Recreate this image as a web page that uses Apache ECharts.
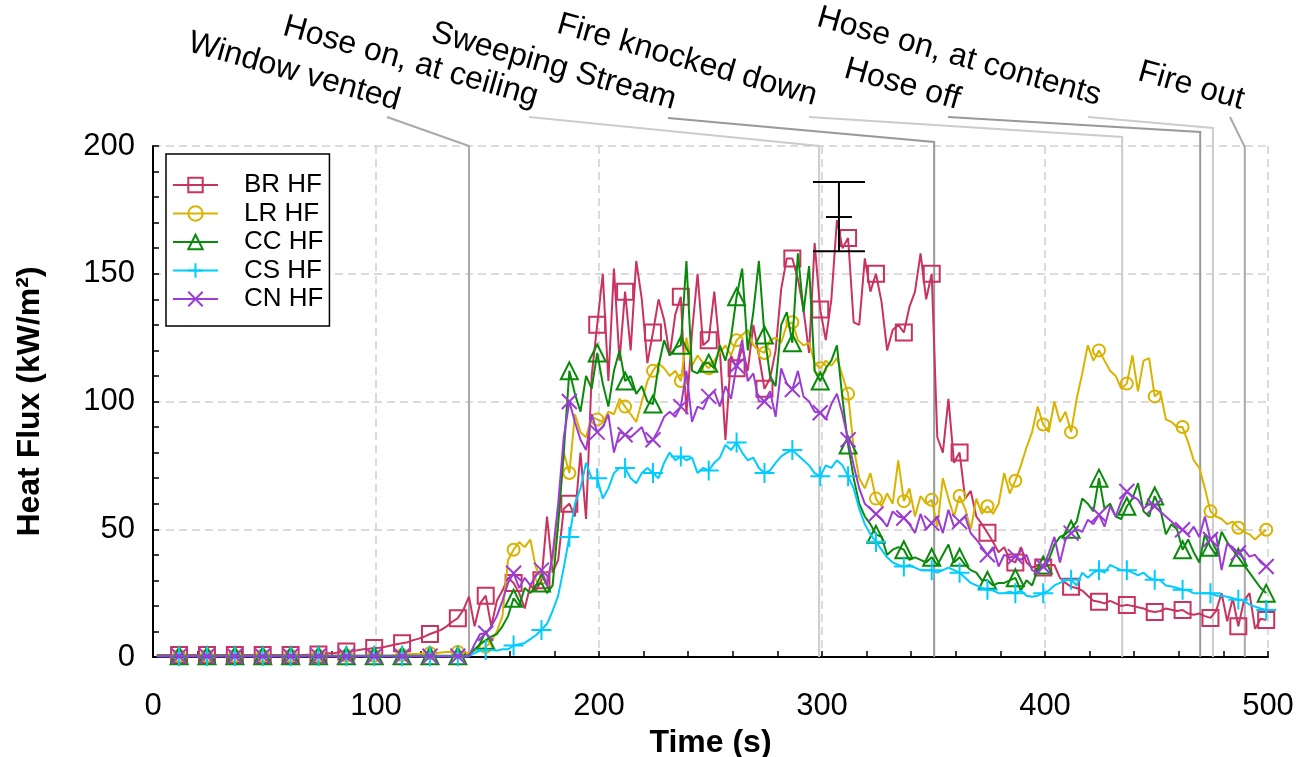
<!DOCTYPE html>
<html>
<head>
<meta charset="utf-8">
<script src="https://cdn.jsdelivr.net/npm/echarts@6/dist/echarts.min.js"></script>
<style>html,body{margin:0;padding:0;background:#fff}#c{width:1311px;height:757px}</style>
</head>
<body>
<div id="c"></div>
<script>
// ---- sampling grid (s) ----
const T0 = 1.7, DT = 2.5;
// ---- series values (kW/m^2), one value every 2.5 s ----
const brHF = [
0.8,0.8,0.8,0.8,0.8,0.8,0.8,0.8,0.8,0.8,
0.8,0.8,0.8,0.8,0.8,0.8,0.8,0.8,0.8,0.8,
0.8,0.8,0.8,0.8,0.8,0.8,0.8,0.9,0.9,1.0,
1.3,1.5,1.6,2.0,2.2,2.4,2.6,3.0,3.2,3.5,
3.6,4.0,4.5,5.0,5.4,5.8,6.6,7.2,8.0,9.0,
9.8,10.6,12.0,13.8,15.2,18.5,23.6,12,21,24,
12,22,26,31,29,25,19,28,26,30,
55,33,38,58,60,55,80,54,110,130,
150,108,152,116,143,120,155,140,115,127,
140,132,118,134,141,95,127,150,122,124,
143,120,85,118,113,121,112,130,118,105,
109,120,144,156,156,148,136,119,162,136,
124,140,171,160,164,131,130,156,143,150,
139,120,128,130,127,137,143,158,140,150,
86,80,101,76,80,62,65,55,52,48.6,
45,41,43,38,37,43,37,35,36,35,
36,36,31,29,27.5,27,26,24,22,21.6,
21,22,21,20,20.4,20,19.5,19,18,17.6,
18,19,18.5,18,18.4,17,16.5,17,16,15.3,
18,25,14,23,12,22,25,11,15,14.5];
const lrHF = [
0.5,0.5,0.5,0.5,0.5,0.5,0.5,0.5,0.5,0.5,
0.5,0.5,0.5,0.5,0.5,0.5,0.5,0.5,0.5,0.5,
0.5,0.5,0.5,0.5,0.5,0.5,0.5,0.5,0.5,0.5,
0.5,0.5,0.5,0.5,0.5,0.5,0.5,0.5,0.5,0.5,
0.5,0.5,0.6,0.7,0.8,1.0,1.2,1.3,1.4,1.5,
1.5,1.8,2,2,2,2,1.5,2.5,3,4,
6,10,16,38,42,45,43,46,35,31,
30,38,55,80,72,95,88,86,94,93,
92,96,95,101,98,95,92,100,108,112,
115,113,110,112,108,125,114,118,115,113,
116,119,122,118,124,126,128,122,120,119,
124,125,123,130,131,124,122,123,115,113,
116,114,117,110,103,82,70,66,72,62,
59,64,60,77,61,66,55,63,60,61.5,
51,70,62,55,63,58,50,62,56,59,
56,60,72,64,69,75,82,88,98,91,
88,100,92,96,88,101,111,122,116,120,
116,112,110,105,107,118,104,116,117,102,
104,93,92,90,90,84,77,74,66,57,
55,54,52,53,50.6,49,48,46,48,49.8];
const ccHF = [
0.5,0.5,0.5,0.5,0.5,0.5,0.5,0.5,0.5,0.5,
0.5,0.5,0.5,0.5,0.5,0.5,0.5,0.5,0.5,0.5,
0.5,0.5,0.5,0.5,0.5,0.5,0.5,0.5,0.5,0.5,
0.5,0.5,0.5,0.5,0.5,0.5,0.5,0.5,0.5,0.5,
0.5,0.5,0.5,0.5,0.5,0.5,0.5,0.5,0.5,0.5,
0.5,0.5,0.5,0.5,0.5,0.5,0.8,3,5,6.5,
8,9,12,16,23,20,27,25,28,29,
25,28,52,80,112,103,96,110,105,119,
107,98,112,120,108,110,103,106,100,99,
114,124,118,121,122,155,112,111,115,115,
113,122,116,125,141,152,120,135,155,126,
110,106,130,135,123,158,135,153,112,108,
113,116,122,101,83,70,60,55,52,48,
47,40,42,43,42,38,39,38,37,39,
36,40,44,37,39,36,34,33,30,30,
28,29,29,30,31,26,30,28,34,36,
38,44,47,48,50,53,62,60,57,70,
58,60,55,54,59,62,68,57,55,63,
58,48,52,50,42,46,41,37,48,43,
40,49,45,42,39,36,33,30,27,25];
const csHF = [
0.3,0.3,0.3,0.3,0.3,0.3,0.3,0.3,0.3,0.3,
0.3,0.3,0.3,0.3,0.3,0.3,0.3,0.3,0.3,0.3,
0.3,0.3,0.3,0.3,0.3,0.3,0.3,0.3,0.3,0.3,
0.3,0.3,0.3,0.3,0.3,0.3,0.3,0.3,0.3,0.3,
0.3,0.3,0.3,0.3,0.3,0.3,0.3,0.3,0.3,0.3,
0.3,0.3,0.3,0.3,0.3,0.3,0.3,1.5,2.5,2.7,
2.7,2.5,3,3,4.5,5,5.5,7,8.5,10.6,
13,18,24,35,47,60,66,76,70,70,
62,66,72,74,74,70,68,72,74,72,
70,76,80,77,78.5,77,78,72,74,73,
76,78,83,81,84,80,77,78,74,72,
73,76,78.5,80,81,79,77,75,72,70.7,
75,74,77,75,70.7,66,58,52,48,45,
42,39,37,36,35.4,36,35,34,34,34,
33,34,35,34,33,31,29,28,27,26.3,
26,25,25,25.5,25,26,24,23.6,24,25,
26,28,29,30,30.2,28,33,31,33,34,
33,36,35,34,34,33,32,33,31,30.2,
30,28,27.6,27,26.3,26,25,25,25,25,
24,24,23.6,23,22.4,22,20.5,19.7,19,18.4];
const cnHF = [
0.3,0.3,0.3,0.3,0.3,0.3,0.3,0.3,0.3,0.3,
0.3,0.3,0.3,0.3,0.3,0.3,0.3,0.3,0.3,0.3,
0.3,0.3,0.3,0.3,0.3,0.3,0.3,0.3,0.3,0.3,
0.3,0.3,0.3,0.3,0.3,0.3,0.3,0.3,0.3,0.3,
0.3,0.3,0.3,0.3,0.3,0.3,0.3,0.3,0.3,0.3,
0.3,0.3,0.3,0.3,0.3,0.3,0.3,5,9,9.3,
12,16,22,29,32.8,27,31,28,32,34,
28,40,60,86,100,92,85,81,95,88,
90,95,80,88,87,86,88,90,84,85,
89,94,96,94,98,112,92,98,97,102,
104,98,106,101,114,124,108,111,100,100,
104,94,113,107,104.7,112,102,100,96,95.6,
93,99,103,95,85,75,66,60,58,56,
54,51,57,55,54.4,52,48.5,56,50,52.4,
55,48.5,57.6,51,53,55,48.5,46,43,40,
43,35.4,40,39,39.3,38,40,34,32.8,35.4,
40.7,47,37,46,48.5,50,49,53.7,52,55.7,
51,59,55,61,64.8,63,61.6,58,60,59,
57,55,53,51,49.8,48,51,47,55,46,
48,34,44.6,42,40.7,42,39.3,40,37,35.4];
const seriesNames = ['BR HF', 'LR HF', 'CC HF', 'CS HF', 'CN HF'];

// ---- events ----
const eventNames = ['Window vented', 'Hose on, at ceiling', 'Sweeping Stream', 'Fire knocked down', 'Hose off', 'Hose on, at contents', 'Fire out'];
const eventTimes = [141.7, 298.7, 350.3, 434.6, 469.6, 475.3, 489.6];

// ---- error bar near peak ----
const errTime = [307.6];
const errLow = [158.8];
const errMid = [172.2];
const errHigh = [185.9];

// ---- axis ticks ----
const xTicks = [0, 100, 200, 300, 400, 500];
const yTicks = [0, 50, 100, 150, 200];

// ================= styling / layout =================
const FONT = '"Liberation Sans", Arial, sans-serif';
const colors = ['#C9335F', '#D9B300', '#0A8A0A', '#00CCFF', '#9B3CD2'];
const symbols = ['rect', 'circle', 'triangle', 'path://M10,0L10,20M0,10L20,10', 'path://M0,0L20,20M20,0L0,20'];
const symbolSizes = [16, 12, 17, 20, 15];
const markerStep = 5, markerOffset = 4;
// event annotation layout (pixels): label anchor (right-bottom), leader start, corner y, line color
const evLayout = [
  { tx: 395, ty: 117, lx: 387, ly: 117, cy: 146, c: '#aaaaaa' },
  { tx: 533, ty: 113, lx: 529, ly: 117, cy: 146, c: '#cccccc' },
  { tx: 671, ty: 116, lx: 668, ly: 118, cy: 142, c: '#999999' },
  { tx: 812, ty: 112, lx: 809, ly: 117, cy: 137, c: '#cccccc' },
  { tx: 955, ty: 116, lx: 948, ly: 117, cy: 132, c: '#999999' },
  { tx: 1096, ty: 112, lx: 1088, ly: 117, cy: 128, c: '#cccccc' },
  { tx: 1239, ty: 116, lx: 1230, ly: 117, cy: 147, c: '#aaaaaa' }
];

const time = brHF.map((_, i) => +(T0 + DT * i).toFixed(2));
const allVals = [brHF, lrHF, ccHF, csHF, cnHF];
function seriesData(vals) {
  return vals.map((v, i) => (i % markerStep === markerOffset)
    ? [time[i], v]
    : { value: [time[i], v], symbol: 'none' });
}

const lineSeries = seriesNames.map((name, k) => ({
  name: name,
  type: 'line',
  data: seriesData(allVals[k]),
  symbol: symbols[k],
  symbolSize: symbolSizes[k],
  showAllSymbol: true,
  symbolKeepAspect: true,
  lineStyle: { color: colors[k], width: 2 },
  itemStyle: { color: 'rgba(0,0,0,0)', borderColor: colors[k], borderWidth: 2 },
  emphasis: { disabled: true },
  animation: false,
  z: 3 + k
}));

const eventSeries = {
  type: 'custom',
  silent: true,
  clip: false,
  z: 1,
  animation: false,
  data: eventTimes.map((t, i) => [t, i]),
  renderItem: function (params, api) {
    const i = params.dataIndex;
    const L = evLayout[i];
    const bot = api.coord([api.value(0), 0]);
    return {
      type: 'group',
      children: [
        { type: 'polyline', shape: { points: [[L.lx, L.ly], [bot[0], L.cy], [bot[0], bot[1]]] },
          style: { stroke: L.c, lineWidth: 2, fill: 'none' } },
        { type: 'text', x: L.tx, y: L.ty, rotation: -0.275,
          style: { text: eventNames[i], align: 'right', verticalAlign: 'bottom',
                   fontSize: 32, fontFamily: FONT, fill: '#000' } }
      ]
    };
  }
};

const errSeries = {
  type: 'custom',
  silent: true,
  clip: false,
  z: 10,
  animation: false,
  data: errTime.map((t, i) => [t, errLow[i], errMid[i], errHigh[i]]),
  encode: { x: 0, y: [1, 2, 3] },
  renderItem: function (params, api) {
    const t = api.value(0);
    const lo = api.coord([t, api.value(1)]);
    const mid = api.coord([t, api.value(2)]);
    const hi = api.coord([t, api.value(3)]);
    const wCap = 26, wMid = 13;
    const st = { stroke: '#000', lineWidth: 2 };
    return {
      type: 'group',
      children: [
        { type: 'line', shape: { x1: lo[0], y1: lo[1], x2: hi[0], y2: hi[1] }, style: st },
        { type: 'line', shape: { x1: hi[0] - wCap, y1: hi[1], x2: hi[0] + wCap, y2: hi[1] }, style: st },
        { type: 'line', shape: { x1: lo[0] - wCap, y1: lo[1], x2: lo[0] + wCap, y2: lo[1] }, style: st },
        { type: 'line', shape: { x1: mid[0] - wMid, y1: mid[1], x2: mid[0] + wMid, y2: mid[1] }, style: st }
      ]
    };
  }
};

const gridLine = { show: true, lineStyle: { color: '#cfcfcf', width: 1.5, type: [8, 5] } };
const chart = echarts.init(document.getElementById('c'), null, { renderer: 'canvas' });
chart.setOption({
  animation: false,
  backgroundColor: '#ffffff',
  grid: { left: 153, right: 43, top: 146, bottom: 100, containLabel: false, outerBoundsMode: 'none' },
  legend: {
    data: seriesNames,
    orient: 'vertical',
    left: 166, top: 154,
    padding: [18, 6, 14, 6],
    itemWidth: 45, itemHeight: 18, itemGap: 2.5,
    borderColor: '#000', borderWidth: 1.5, borderRadius: 0,
    backgroundColor: '#ffffff',
    selectedMode: false,
    textStyle: { fontSize: 26, fontFamily: FONT, color: '#000', padding: [0, 0, 0, 21], lineHeight: 26 }
  },
  xAxis: {
    type: 'value', min: xTicks[0], max: xTicks[xTicks.length - 1], interval: xTicks[1] - xTicks[0],
    name: 'Time (s)', nameLocation: 'middle', nameGap: 69,
    nameTextStyle: { fontSize: 32, fontWeight: 'bold', fontFamily: FONT, color: '#000' },
    axisLine: { show: true, onZero: false, lineStyle: { color: '#000', width: 2 } },
    axisTick: { show: true, inside: true, length: 6, lineStyle: { color: '#000', width: 1.5 } },
    minorTick: { show: true, splitNumber: 5, length: 6, lineStyle: { color: '#000', width: 1.5 } },
    axisLabel: { fontSize: 31, fontFamily: FONT, color: '#000', margin: 34 },
    splitLine: gridLine,
    minorSplitLine: { show: false }
  },
  yAxis: {
    type: 'value', min: yTicks[0], max: yTicks[yTicks.length - 1], interval: yTicks[1] - yTicks[0],
    name: 'Heat Flux (kW/m²)', nameLocation: 'middle', nameGap: 107, nameRotate: 90,
    nameTextStyle: { fontSize: 32, fontWeight: 'bold', fontFamily: FONT, color: '#000' },
    axisLine: { show: true, onZero: false, lineStyle: { color: '#000', width: 2 } },
    axisTick: { show: true, inside: true, length: 6, lineStyle: { color: '#000', width: 1.5 } },
    minorTick: { show: true, splitNumber: 5, length: 6, lineStyle: { color: '#000', width: 1.5 } },
    axisLabel: { fontSize: 31, fontFamily: FONT, color: '#000', margin: 18, padding: [8, 0, 0, 0] },
    splitLine: gridLine,
    minorSplitLine: { show: false }
  },
  series: [eventSeries].concat(lineSeries).concat([errSeries])
});
</script>
</body>
</html>
